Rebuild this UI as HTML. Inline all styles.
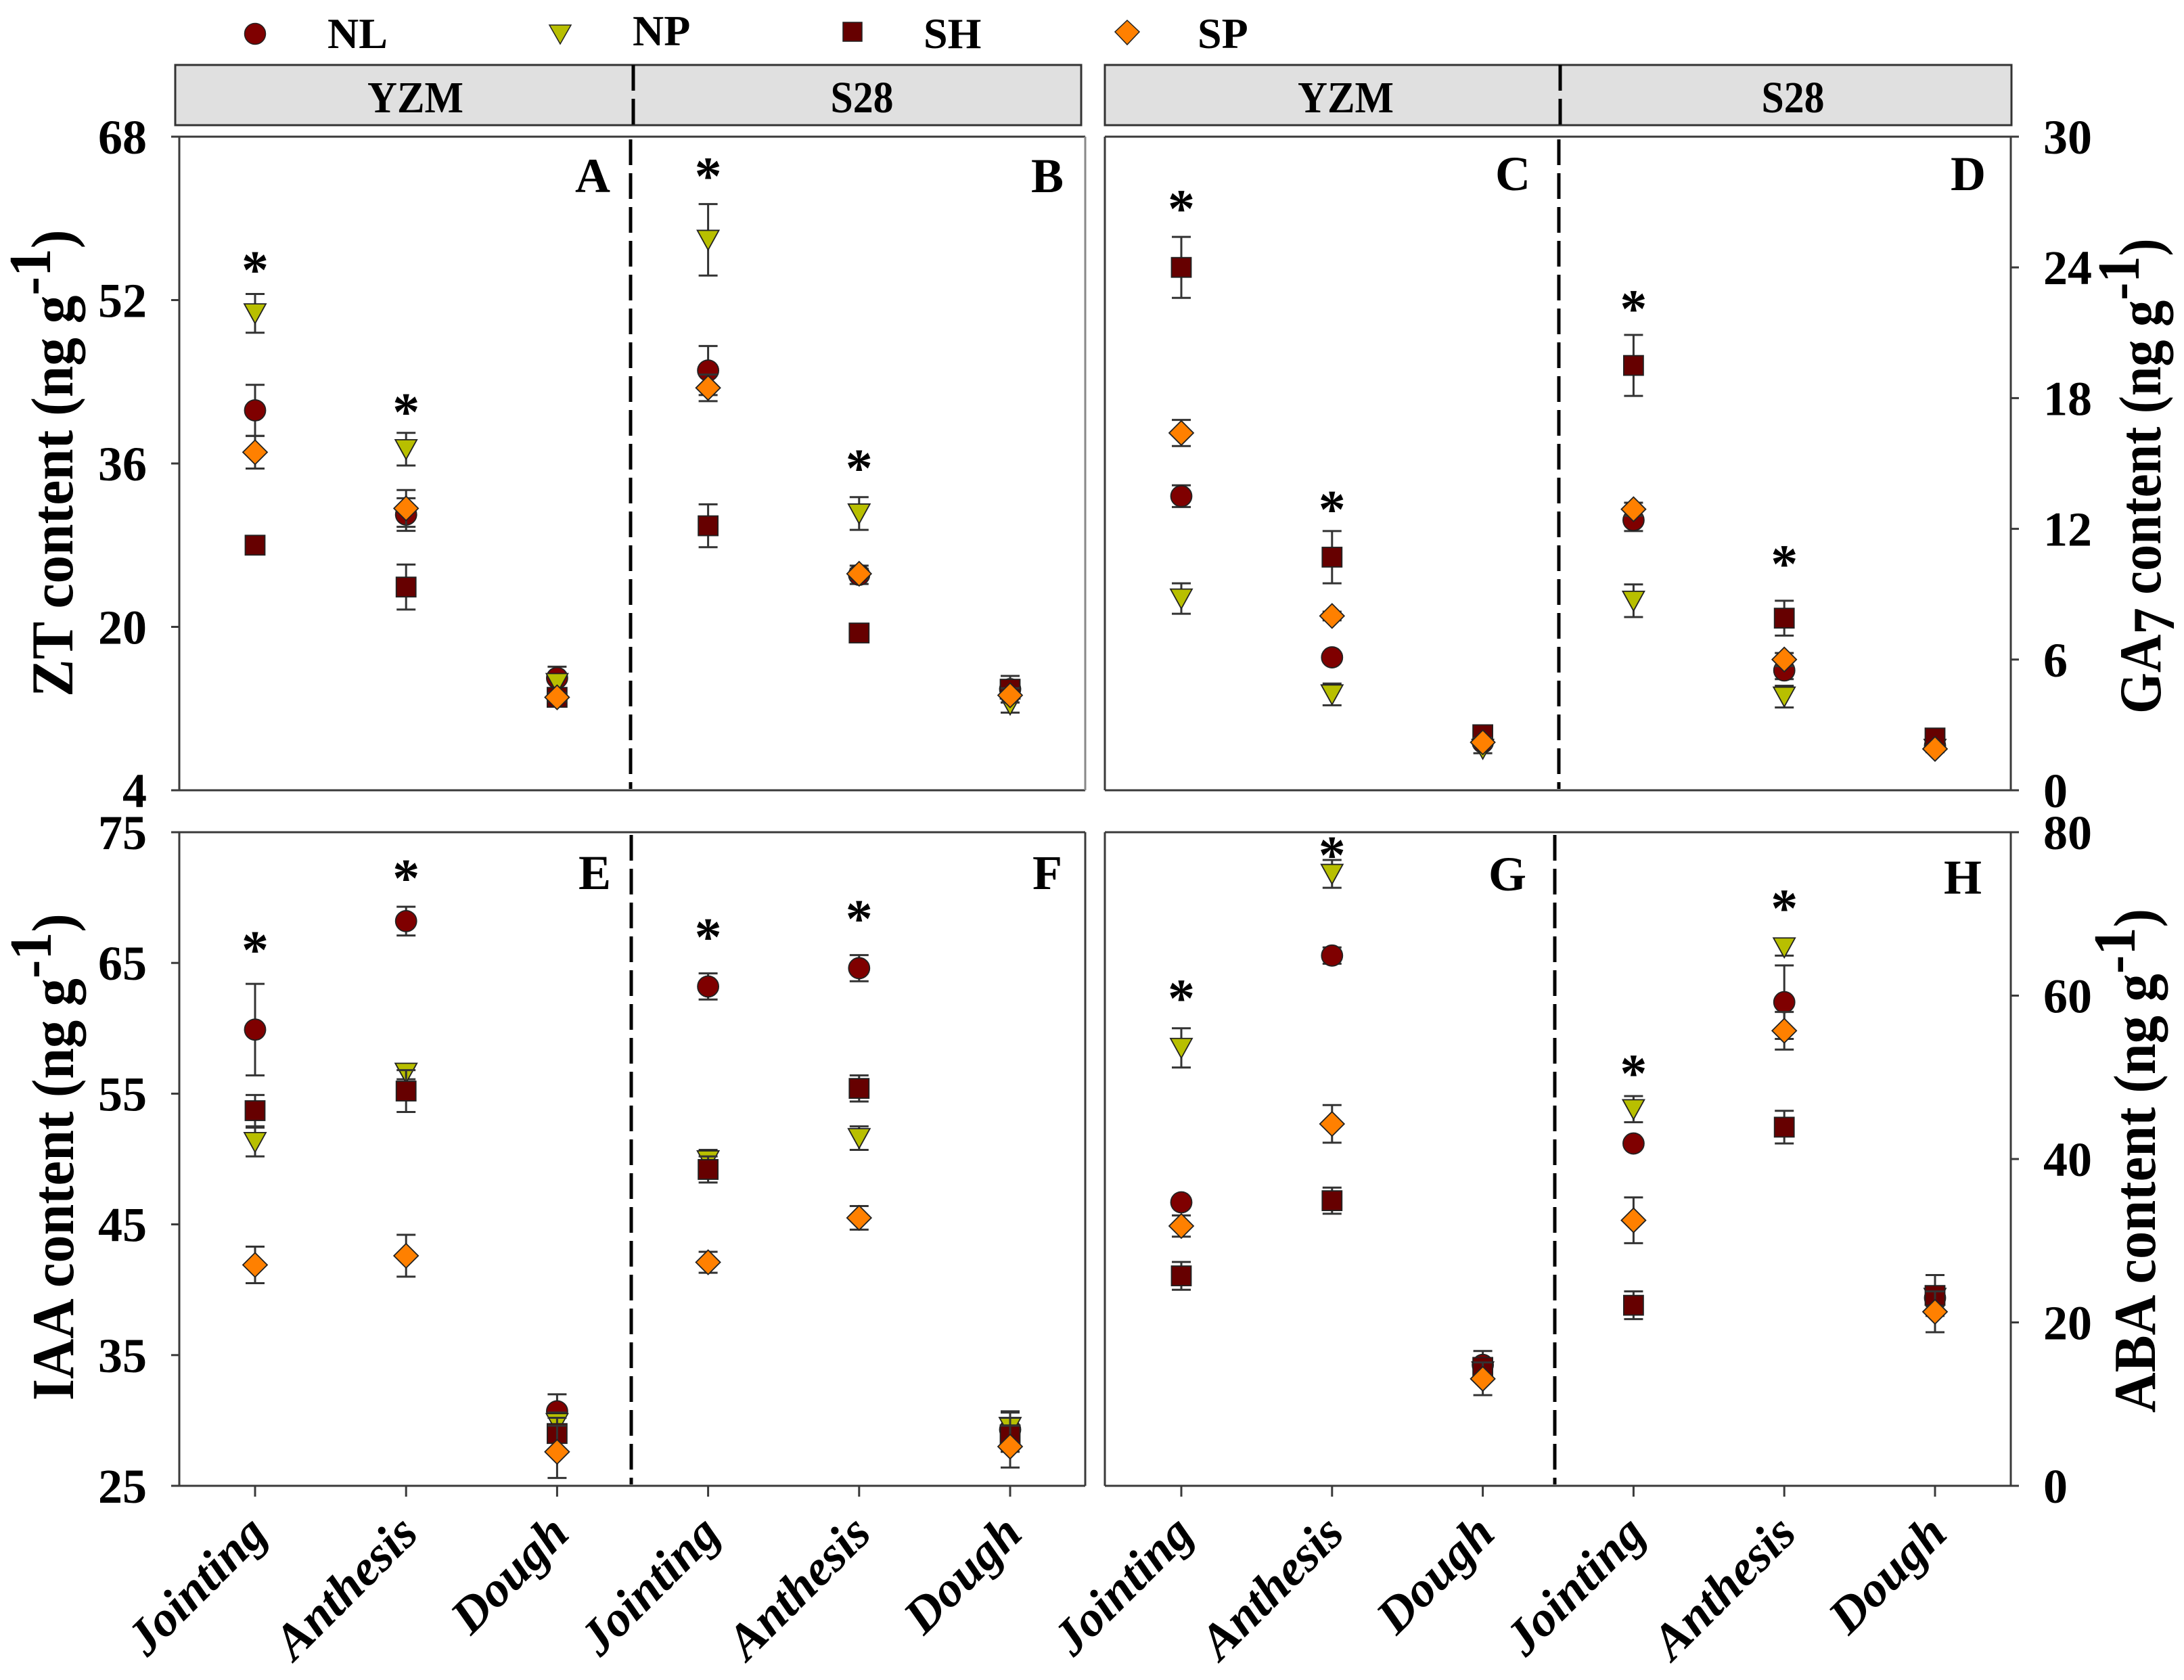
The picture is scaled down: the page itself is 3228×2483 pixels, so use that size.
<!DOCTYPE html>
<html lang="en">
<head>
<meta charset="utf-8">
<title>Hormone content by stage</title>
<style>
html,body{margin:0;padding:0;background:#fff;}
svg{display:block;}
text{font-family:"Liberation Serif",serif;font-weight:bold;fill:#000;}
</style>
</head>
<body>
<svg id="chart" xmlns="http://www.w3.org/2000/svg" width="3228" height="2483" viewBox="0 0 3228 2483">
  <rect x="0" y="0" width="3228" height="2483" fill="#fff"/>

  <g>
    <g>
      <ellipse cx="377" cy="50" rx="15.5" ry="15.5" fill="#7f0000" stroke="#222" stroke-width="1.5"/>
      <text x="484" y="71" font-size="64">NL</text>
    </g>
    <g>
      <polygon points="812,37 844,37 828,65" fill="#b8bf00" stroke="#222" stroke-width="1.5"/>
      <text x="935" y="67" font-size="64">NP</text>
    </g>
    <g>
      <rect x="1246" y="33" width="28" height="28" fill="#660000" stroke="#222" stroke-width="1.5"/>
      <text x="1365" y="71" font-size="64">SH</text>
    </g>
    <g>
      <polygon points="1666,30 1684,47 1666,66 1648,47" fill="#ff8000" stroke="#222" stroke-width="1.5"/>
      <text x="1770" y="71" font-size="64">SP</text>
    </g>
  </g>

  <g>
    <rect x="259" y="96" width="1339" height="89" fill="#e0e0e0" stroke="#333" stroke-width="3"/>
    <line x1="936" y1="96" x2="936" y2="185" stroke="#000" stroke-width="5" stroke-dasharray="38 12"/>
    <text x="614" y="166" font-size="66" text-anchor="middle" textLength="142" lengthAdjust="spacingAndGlyphs">YZM</text>
    <text x="1274" y="166" font-size="66" text-anchor="middle" textLength="93" lengthAdjust="spacingAndGlyphs">S28</text>
  </g>
  <g>
    <rect x="1633" y="96" width="1340" height="89" fill="#e0e0e0" stroke="#333" stroke-width="3"/>
    <line x1="2306" y1="96" x2="2306" y2="185" stroke="#000" stroke-width="5" stroke-dasharray="38 12"/>
    <text x="1989" y="166" font-size="66" text-anchor="middle" textLength="142" lengthAdjust="spacingAndGlyphs">YZM</text>
    <text x="2650" y="166" font-size="66" text-anchor="middle" textLength="93" lengthAdjust="spacingAndGlyphs">S28</text>
  </g>

  <g stroke="#3a3a3a" stroke-width="3" fill="none">
    <path d="M255 202H1604M255 1168H1604M265 202V1168"/>
    <path stroke="#888" d="M1604 202V1168"/>
    <path d="M1633 202H2982M1633 1168H2982M1633 202V1168M2972 202V1168"/>
    <path d="M255 1230H1604M255 2196H1604M265 1230V2196M1604 1230V2196"/>
    <path d="M1633 1230H2982M1633 2196H2982M1633 1230V2196M2972 1230V2196"/>
  </g>

  <g stroke="#000" stroke-width="5" stroke-dasharray="38 12" fill="none">
    <line x1="932" y1="206" x2="932" y2="1166"/>
    <line x1="2304" y1="206" x2="2304" y2="1166"/>
    <line x1="933" y1="1234" x2="933" y2="2194"/>
    <line x1="2298" y1="1234" x2="2298" y2="2194"/>
  </g>

  <g font-size="72" text-anchor="middle">
    <text x="876" y="284" text-anchor="middle" font-size="72">A</text>
    <text x="1548" y="284" text-anchor="middle" font-size="72">B</text>
    <text x="2236" y="281" text-anchor="middle" font-size="72">C</text>
    <text x="2909" y="281" text-anchor="middle" font-size="72">D</text>
    <text x="879" y="1314" text-anchor="middle" font-size="72">E</text>
    <text x="1548" y="1314" text-anchor="middle" font-size="72">F</text>
    <text x="2228" y="1316" text-anchor="middle" font-size="72">G</text>
    <text x="2901" y="1321" text-anchor="middle" font-size="72">H</text>
  </g>

  <g font-size="88">
    <text transform="translate(107 1030) rotate(-90) scale(0.947 1)" font-size="88">ZT content (ng g<tspan dy="-33">-1</tspan><tspan dy="33">)</tspan></text>
    <text transform="translate(108 2070) rotate(-90) scale(0.935 1)" font-size="88">IAA content (ng g<tspan dy="-33">-1</tspan><tspan dy="33">)</tspan></text>
    <text transform="translate(3193 1055) rotate(-90) scale(0.89 1)" font-size="88">GA<tspan dy="20">7</tspan><tspan dy="-20"> content (ng g</tspan><tspan dy="-32">-1</tspan><tspan dy="32">)</tspan></text>
    <text transform="translate(3185 2088) rotate(-90) scale(0.938 1)" font-size="88">ABA content (ng g<tspan dy="-30">-1</tspan><tspan dy="30">)</tspan></text>
  </g>

  <g id="marks"></g>
</svg>

<script>
// Tick labels and categories
const stageLabels = ['Jointing', 'Anthesis', 'Dough'];
const zTicks = [4, 20, 36, 52, 68];
const gaTicks = [0, 6, 12, 18, 24, 30];
const iaaTicks = [25, 35, 45, 55, 65, 75];
const abaTicks = [0, 20, 40, 60, 80];

// Panel A: ZT, YZM
const A_NL = [41.2, 31.0, 15.0];
const A_NL_err = [2.5, 1.6, 1.1];
const A_NP = [50.7, 37.4, 14.5];
const A_NP_err = [1.9, 1.6, 0.8];
const A_SH = [28.0, 23.9, 13.1];
const A_SH_err = [0.5, 2.2, 0.4];
const A_SP = [37.1, 31.6, 13.1];
const A_SP_err = [1.6, 1.8, 0.4];
const A_star = [55.6, 41.7];

// Panel B: ZT, S28
const B_NL = [45.1, 25.1, 13.9];
const B_NL_err = [2.4, 0.9, 0.8];
const B_NP = [57.9, 31.1, 12.4];
const B_NP_err = [3.5, 1.6, 0.8];
const B_SH = [29.9, 19.4, 13.9];
const B_SH_err = [2.1, 0.4, 1.3];
const B_SP = [43.4, 25.2, 13.3];
const B_SP_err = [1.3, 0.5, 0.7];
const B_star = [64.8, 36.2];

// Panel C: GA7, YZM
const C_NL = [13.5, 6.1, 2.2];
const C_NL_err = [0.5, 0.2, 0.2];
const C_NP = [8.8, 4.4, 1.9];
const C_NP_err = [0.7, 0.5, 0.2];
const C_SH = [24.0, 10.7, 2.55];
const C_SH_err = [1.4, 1.2, 0.2];
const C_SP = [16.4, 8.0, 2.2];
const C_SP_err = [0.6, 0.2, 0.2];
const C_star = [27.0, 13.2];

// Panel D: GA7, S28
const D_NL = [12.4, 5.5, 2.05];
const D_NL_err = [0.5, 0.4, 0.15];
const D_NP = [8.7, 4.3, 1.9];
const D_NP_err = [0.75, 0.5, 0.15];
const D_SH = [19.5, 7.9, 2.4];
const D_SH_err = [1.4, 0.8, 0.15];
const D_SP = [12.9, 6.0, 1.9];
const D_SP_err = [0.3, 0.3, 0.15];
const D_star = [22.4, 10.7];

// Panel E: IAA, YZM
const E_NL = [59.9, 68.2, 30.7];
const E_NL_err = [3.5, 1.1, 1.3];
const E_NP = [51.3, 56.6, 29.8];
const E_NP_err = [1.1, 0.5, 0.8];
const E_SH = [53.7, 55.2, 29.0];
const E_SH_err = [1.2, 1.6, 1.2];
const E_SP = [41.9, 42.6, 27.6];
const E_SP_err = [1.4, 1.6, 2.0];
const E_star = [66.5, 72.0];

// Panel F: IAA, S28
const F_NL = [63.2, 64.6, 29.3];
const F_NL_err = [1.0, 1.0, 1.3];
const F_NP = [49.9, 51.6, 29.5];
const F_NP_err = [0.8, 0.9, 1.2];
const F_SH = [49.2, 55.4, 28.9];
const F_SH_err = [1.0, 1.0, 1.3];
const F_SP = [42.1, 45.5, 28.0];
const F_SP_err = [0.8, 0.9, 1.6];
const F_star = [67.5, 68.9];

// Panel G: ABA, YZM
const G_NL = [34.7, 64.9, 14.8];
const G_NL_err = [0.5, 1.0, 1.7];
const G_NP = [53.6, 74.9, 14.0];
const G_NP_err = [2.4, 1.7, 1.0];
const G_SH = [25.7, 34.9, 14.5];
const G_SH_err = [1.7, 1.6, 1.0];
const G_SP = [31.8, 44.3, 13.1];
const G_SP_err = [1.3, 2.3, 2.0];
const G_star = [60.5, 78.0];

// Panel H: ABA, S28
const H_NL = [41.9, 59.2, 23.0];
const H_NL_err = [0.4, 4.5, 1.0];
const H_NP = [46.1, 65.9, 23.0];
const H_NP_err = [1.6, 1.0, 1.0];
const H_SH = [22.1, 43.9, 23.3];
const H_SH_err = [1.7, 2.0, 2.5];
const H_SP = [32.5, 55.7, 21.3];
const H_SP_err = [2.8, 2.3, 2.5];
const H_star = [51.3, 71.5];

const NS = 'http://www.w3.org/2000/svg';
const marksRoot = document.getElementById('marks');

function make(tag, parent, props) {
  const el = document.createElementNS(NS, tag);
  for (const k in props) el.setAttribute(k, props[k]);
  parent.appendChild(el);
  return el;
}

// Axis functions
function yZT(v) { return 1168 - (v - 4) * 966 / 64; }
function yGA(v) { return 1168 - v * 966 / 30; }
function yIAA(v) { return 2196 - (v - 25) * 966 / 50; }
function yABA(v) { return 2196 - v * 966 / 80; }
function xLeft(i) { return 377 + i * 223.2; }
function xRight(i) { return 1746 + i * 222.8; }

function drawMarker(kind, g, x, y) {
  let el;
  const line = { stroke: '#222', 'stroke-width': 1.8 };
  if (kind === 'NL') {
    el = make('circle', g, Object.assign({ cx: x, cy: y, r: 15.5, fill: '#7f0000' }, line));
  } else if (kind === 'NP') {
    el = make('polygon', g, Object.assign({ points: (x - 16) + ',' + (y - 14) + ' ' + (x + 16) + ',' + (y - 14) + ' ' + x + ',' + (y + 15), fill: '#b8bf00' }, line));
  } else if (kind === 'SH') {
    el = make('rect', g, Object.assign({ x: x - 14.5, y: y - 14.5, width: 29, height: 29, fill: '#660000' }, line));
  } else {
    el = make('polygon', g, Object.assign({ points: x + ',' + (y - 18) + ' ' + (x + 18) + ',' + y + ' ' + x + ',' + (y + 18) + ' ' + (x - 18) + ',' + y, fill: '#ff8000' }, line));
  }
  
  
}

function drawSeries(panelG, kind, means, errs, yFn, xFn, offset) {
  const g = make('g', panelG, {});
  
  
  means.forEach(function (m, i) {
    const x = xFn(i + offset);
    const top = yFn(m + errs[i]);
    const bot = yFn(m - errs[i]);
    const bar = make('path', g, {
      d: 'M' + x + ' ' + top + 'V' + bot + 'M' + (x - 14) + ' ' + top + 'H' + (x + 14) + 'M' + (x - 14) + ' ' + bot + 'H' + (x + 14),
      stroke: '#333', 'stroke-width': 3, fill: 'none'
    });
    
    
    drawMarker(kind, g, x, yFn(m));
  });
}

function drawPanel(id, yFn, xFn, offset, nl, nlE, np, npE, sh, shE, sp, spE, stars) {
  const g = make('g', marksRoot, {});
  
  
  drawSeries(g, 'NL', nl, nlE, yFn, xFn, offset);
  drawSeries(g, 'NP', np, npE, yFn, xFn, offset);
  drawSeries(g, 'SH', sh, shE, yFn, xFn, offset);
  drawSeries(g, 'SP', sp, spE, yFn, xFn, offset);
  stars.forEach(function (v, i) {
    const t = make('text', g, { x: xFn(i + offset), y: yFn(v) + 37, 'font-size': 80, 'text-anchor': 'middle' });
    t.textContent = '*';
    
    
  });
}

function drawYTicks(name, ticks, yFn, side) {
  const g = make('g', marksRoot, {});
  
  
  ticks.forEach(function (v) {
    const y = yFn(v);
    const tick = make('line', g, {
      x1: side === 'left' ? 253 : 2972, x2: side === 'left' ? 265 : 2984,
      y1: y, y2: y, stroke: '#3a3a3a', 'stroke-width': 3
    });
    
    
    const label = make('text', g, {
      x: side === 'left' ? 217 : 3020, y: y + 25, 'font-size': 72,
      'text-anchor': side === 'left' ? 'end' : 'start'
    });
    label.textContent = String(v);
    
    
  });
}

function drawXTicks(name, xFn) {
  const g = make('g', marksRoot, {});
  
  
  for (let i = 0; i < 6; i++) {
    const x = xFn(i);
    const tick = make('line', g, { x1: x, x2: x, y1: 2196, y2: 2212, stroke: '#3a3a3a', 'stroke-width': 3 });
    
    
    const ax = x + 21;
    const ay = 2270;
    const label = make('text', g, {
      x: ax, y: ay, 'font-size': 74, 'font-style': 'italic', 'text-anchor': 'end',
      transform: 'rotate(-45 ' + ax + ' ' + ay + ')'
    });
    label.textContent = stageLabels[i % 3];
    
    
  }
}

drawYTicks('y-axis-zt', zTicks, yZT, 'left');
drawYTicks('y-axis-ga7', gaTicks, yGA, 'right');
drawYTicks('y-axis-iaa', iaaTicks, yIAA, 'left');
drawYTicks('y-axis-aba', abaTicks, yABA, 'right');
drawXTicks('x-axis-left', xLeft);
drawXTicks('x-axis-right', xRight);

drawPanel('a', yZT, xLeft, 0, A_NL, A_NL_err, A_NP, A_NP_err, A_SH, A_SH_err, A_SP, A_SP_err, A_star);
drawPanel('b', yZT, xLeft, 3, B_NL, B_NL_err, B_NP, B_NP_err, B_SH, B_SH_err, B_SP, B_SP_err, B_star);
drawPanel('c', yGA, xRight, 0, C_NL, C_NL_err, C_NP, C_NP_err, C_SH, C_SH_err, C_SP, C_SP_err, C_star);
drawPanel('d', yGA, xRight, 3, D_NL, D_NL_err, D_NP, D_NP_err, D_SH, D_SH_err, D_SP, D_SP_err, D_star);
drawPanel('e', yIAA, xLeft, 0, E_NL, E_NL_err, E_NP, E_NP_err, E_SH, E_SH_err, E_SP, E_SP_err, E_star);
drawPanel('f', yIAA, xLeft, 3, F_NL, F_NL_err, F_NP, F_NP_err, F_SH, F_SH_err, F_SP, F_SP_err, F_star);
drawPanel('g', yABA, xRight, 0, G_NL, G_NL_err, G_NP, G_NP_err, G_SH, G_SH_err, G_SP, G_SP_err, G_star);
drawPanel('h', yABA, xRight, 3, H_NL, H_NL_err, H_NP, H_NP_err, H_SH, H_SH_err, H_SP, H_SP_err, H_star);
</script>
</body>
</html>
